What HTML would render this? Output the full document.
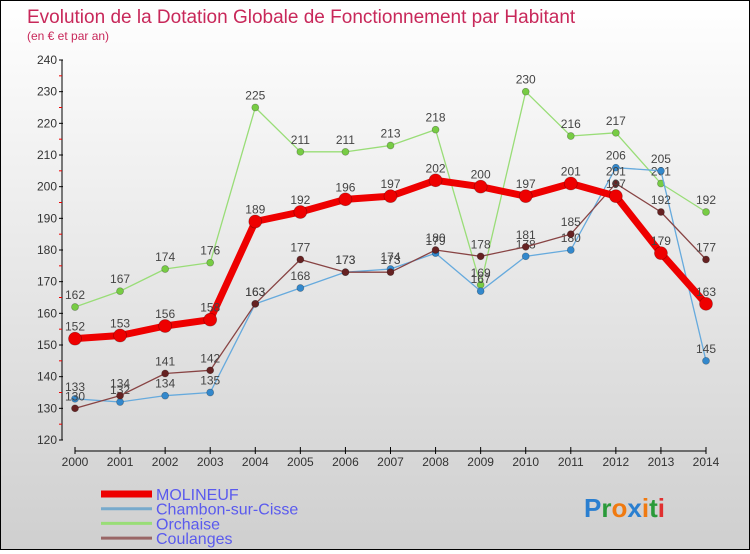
<!DOCTYPE html>
<html><head><meta charset="utf-8"><style>
html,body{margin:0;padding:0}
body{width:750px;height:550px;overflow:hidden;font-family:"Liberation Sans",sans-serif}
#wrap{position:relative;width:748px;height:548px;border:1px solid #000;background:linear-gradient(#ffffff,#cfcfcf)}
</style></head><body>
<div id="wrap">
<svg id="chart" width="748" height="548"></svg>
</div>
<script>
const years=["2000","2001","2002","2003","2004","2005","2006","2007","2008","2009","2010","2011","2012","2013","2014"];
const molineuf=[152,153,156,158,189,192,196,197,202,200,197,201,197,179,163];
const chambon=[133,132,134,135,163,168,173,174,179,167,178,180,206,205,145];
const orchaise=[162,167,174,176,225,211,211,213,218,169,230,216,217,201,192];
const coulanges=[130,134,141,142,163,177,173,173,180,178,181,185,201,192,177];
const yTicks=[120,130,140,150,160,170,180,190,200,210,220,230,240];
const seriesNames=["MOLINEUF","Chambon-sur-Cisse","Orchaise","Coulanges"];
const NS="http://www.w3.org/2000/svg";
const svg=document.getElementById('chart');
function X(i){return 74+i*(705-74)/(years.length-1);}
function Y(v){return 439-(v-120)*(380/120);}
function el(t,a,p){const e=document.createElementNS(NS,t);for(const k in a)e.setAttribute(k,a[k]);(p||svg).appendChild(e);return e;}
let t=el('text',{x:26,y:22,'font-size':19,fill:'#c8285a'});t.textContent="Evolution de la Dotation Globale de Fonctionnement par Habitant";

t=el('text',{x:26,y:39,'font-size':12,fill:'#c8285a'});t.textContent="(en € et par an)";

// y axis
let ya=el('g',{});
el('line',{x1:61,y1:Y(240),x2:61,y2:Y(120),stroke:'#000','stroke-width':1},ya);
yTicks.forEach((v,i)=>{el('line',{x1:58,y1:Y(v),x2:62,y2:Y(v),stroke:'#000'},ya);
 if(i<yTicks.length-1)el('line',{x1:58,y1:Y(v+5),x2:61,y2:Y(v+5),stroke:'#e00'},ya);
 const l=el('text',{x:56,y:Y(v)+4,'font-size':12,fill:'#333','text-anchor':'end'},ya);l.textContent=v;
 });
// x axis
let xa=el('g',{});
el('line',{x1:X(0),y1:450,x2:X(14),y2:450,stroke:'#000'},xa);
years.forEach((y,i)=>{el('line',{x1:X(i),y1:446,x2:X(i),y2:453,stroke:'#000'},xa);
 const l=el('text',{x:X(i),y:465,'font-size':12,fill:'#333','text-anchor':'middle'},xa);l.textContent=y;
 });
function series(data,color,dot,w,r,name){
 const g=el('g',{});
 el('polyline',{points:data.map((v,i)=>X(i)+','+Y(v)).join(' '),fill:'none',stroke:color,'stroke-width':w,'stroke-linejoin':'round'},g);
 data.forEach((v,i)=>{const c=el('circle',{cx:X(i),cy:Y(v),r:r,fill:dot,stroke:'rgba(0,0,0,0.3)','stroke-width':0.7},g);
  
  const l=el('text',{x:X(i),y:Y(v)-8,'font-size':12,fill:'#444','text-anchor':'middle'},g);l.textContent=v;
  });
}
series(orchaise,'#99dd77','#77cc44',1.3,3.5,'series-orchaise');
series(chambon,'#66aadd','#3388cc',1.3,3.5,'series-chambon');
series(coulanges,'#884444','#662222',1.3,3.5,'series-coulanges');
series(molineuf,'#ee0000','#ee0000',7,6.5,'series-molineuf');
// legend
const lcols=['#ee0000','#77aacc','#99dd77','#996666'];const lw=[7,3,3,3];
seriesNames.forEach((n,i)=>{const g=el('g',{});
 const yy=493+i*14.7;el('line',{x1:100,y1:yy,x2:151,y2:yy,stroke:lcols[i],'stroke-width':lw[i]},g);
 const l=el('text',{x:155,y:yy+6,'font-size':16,fill:'#5a5aee'},g);l.textContent=n;});
// logo
const lg=el('text',{x:583,y:516,'font-size':26,'font-weight':'bold'});
[['P','#2a7fd0'],['r','#2a9a3a'],['o','#f07a10'],['x','#2a7fd0'],['i','#f07a10'],['t','#2a9a3a'],['i','#e03030']].forEach(([c,f])=>{const s=el('tspan',{fill:f},lg);s.textContent=c;});
</script>
</body></html>
